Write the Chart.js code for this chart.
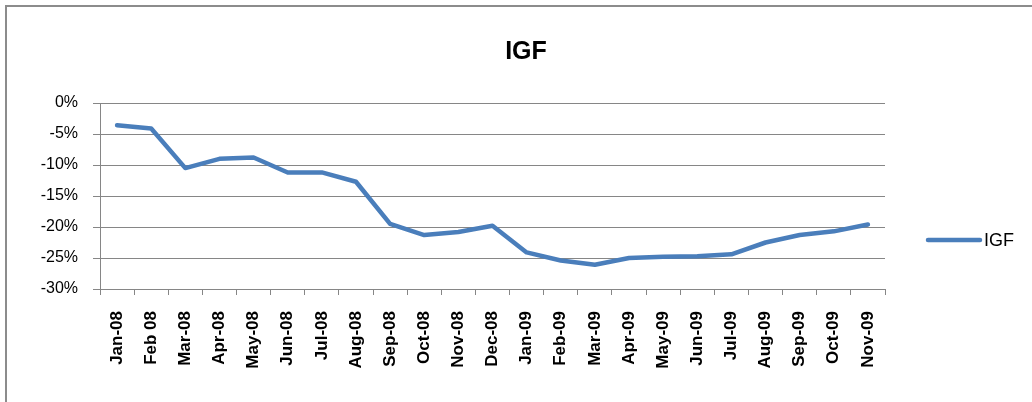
<!DOCTYPE html>
<html>
<head>
<meta charset="utf-8">
<script src="https://cdn.jsdelivr.net/npm/chart.js@4/dist/chart.umd.min.js"></script>
<style>
  body { margin: 0; background: #fff; }
  #wrap { position: relative; width: 1032px; height: 402px; overflow: hidden; }
  #frame { position: absolute; left: 5px; top: 5px; width: 1100px; height: 500px;
           border-left: 2px solid #8c8c8c; border-top: 2px solid #8c8c8c; }
  canvas { position: absolute; left: 0; top: 0; }
</style>
</head>
<body>
<div id="wrap">
  <div id="frame"></div>
  <canvas id="chart" width="1032" height="402"></canvas>
</div>
<script>
// data
const months = ['Jan-08','Feb 08','Mar-08','Apr-08','May-08','Jun-08','Jul-08','Aug-08',
                'Sep-08','Oct-08','Nov-08','Dec-08','Jan-09','Feb-09','Mar-09','Apr-09',
                'May-09','Jun-09','Jul-09','Aug-09','Sep-09','Oct-09','Nov-09']
const igf = [-3.6, -4.1, -10.5, -9.0, -8.8, -11.2, -11.2, -12.7,
             -19.5, -21.3, -20.8, -19.8, -24.1, -25.4, -26.1, -25.0,
             -24.8, -24.7, -24.4, -22.5, -21.3, -20.7, -19.6]
const yTicks = [0, -5, -10, -15, -20, -25, -30]

const gridGray = '#868686'
const lineBlue = '#4a7ebb'

// excel style legend on the right, line + label
const sideLegend = {
  id: 'sideLegend',
  afterDraw(chart) {
    const ctx = chart.ctx
    const ds = chart.data.datasets[0]
    const x = chart.chartArea.right + 43
    const y = 240
    ctx.save()
    ctx.strokeStyle = ds.borderColor
    ctx.lineWidth = 4.5
    ctx.lineCap = 'round'
    ctx.beginPath()
    ctx.moveTo(x, y)
    ctx.lineTo(x + 52, y)
    ctx.stroke()
    ctx.fillStyle = '#000'
    ctx.font = '18px "Liberation Sans", Arial, sans-serif'
    ctx.textBaseline = 'middle'
    ctx.fillText(ds.label, x + 56, y + 1)
    ctx.restore()
  }
}

const ctx = document.getElementById('chart').getContext('2d')

const config = {
  type: 'line',
  data: {
    labels: months,
    datasets: [{
      label: 'IGF',
      data: igf,
      borderColor: lineBlue,
      backgroundColor: lineBlue,
      borderWidth: 4.5,
      borderCapStyle: 'round',
      borderJoinStyle: 'round',
      pointRadius: 0,
      tension: 0
    }]
  },
  plugins: [sideLegend],
  options: {
    responsive: false,
    animation: false,
    layout: { padding: { left: 20, right: 0, top: 0, bottom: 0 } },
    plugins: {
      legend: { display: false },
      tooltip: { enabled: false },
      title: {
        display: true,
        text: 'IGF',
        color: '#000',
        font: { family: '"Liberation Sans Narrow", "Liberation Sans", sans-serif', size: 25, weight: 'bold' },
        padding: { top: 37, bottom: 36 }
      }
    },
    scales: {
      x: {
        offset: true,
        grid: { display: true, offset: true, drawOnChartArea: false, color: gridGray, tickLength: 6 },
        border: { display: true, color: gridGray },
        ticks: {
          autoSkip: false, maxRotation: 90, minRotation: 90, padding: 16,
          color: '#000',
          font: { family: '"Liberation Sans", Arial, sans-serif', size: 17, weight: 'bold' }
        },
        afterFit(s) { s.height = 113 }
      },
      y: {
        min: -30, max: 0,
        afterBuildTicks(s) { s.ticks = yTicks.map(v => ({ value: v })) },
        grid: { color: gridGray, tickLength: 7 },
        border: { display: true, color: gridGray },
        ticks: {
          padding: 15,
          color: '#000',
          font: { family: '"Liberation Sans", Arial, sans-serif', size: 16 },
          callback: v => v + '%'
        },
        afterFit(s) { s.width = 80 }
      },
      // empty axis that holds the room for the legend
      yRight: {
        position: 'right',
        display: true,
        grid: { display: false },
        border: { display: false },
        ticks: { display: false },
        afterFit(s) { s.width = 147 }
      }
    }
  }
}

const myChart = new Chart(ctx, config)
</script>
</body>
</html>
